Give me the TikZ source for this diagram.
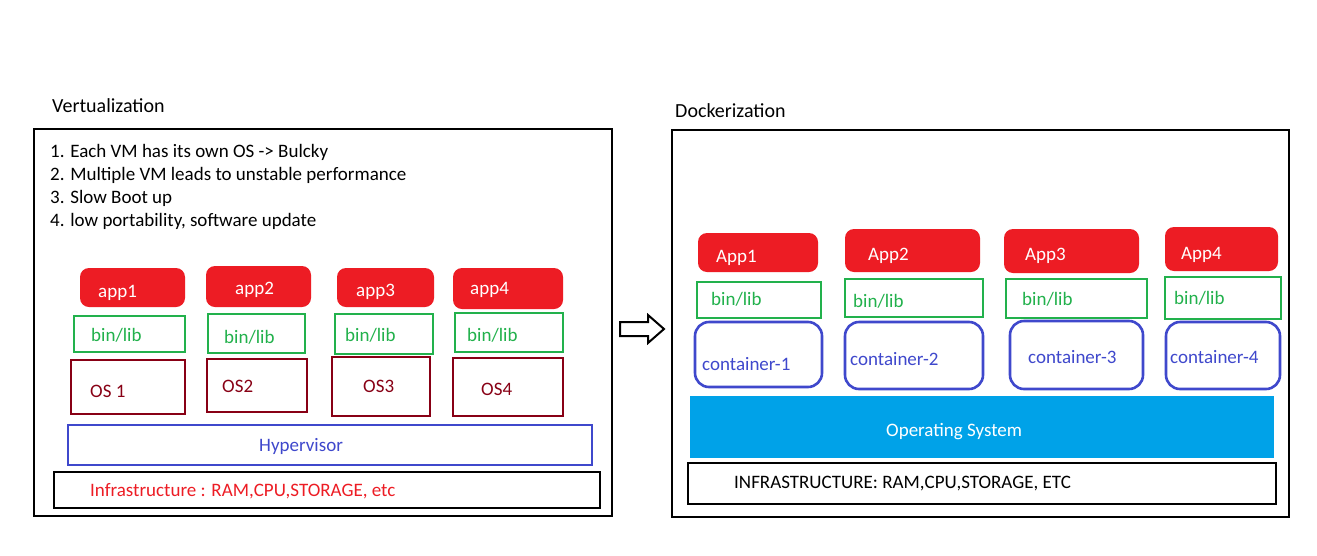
\documentclass[tikz,border=0pt]{standalone}
\usepackage{fontspec}
\setmainfont{Carlito}
\usetikzlibrary{fit}
\definecolor{pred}{HTML}{ED1C24}
\definecolor{pgreen}{HTML}{22B14C}
\definecolor{pdred}{HTML}{880015}
\definecolor{pblue}{HTML}{3F48CC}
\definecolor{pcyan}{HTML}{00A2E8}
\tikzset{
  box/.style={draw, line width=2.6pt, inner sep=0pt, fit={#1}},
  frame/.style={box={#1}, draw=black},
  appbox/.style={box={#1}, draw=none, fill=pred, rounded corners=9pt},
  libbox/.style={box={#1}, draw=pgreen},
  osbox/.style={box={#1}, draw=pdred},
  hypbox/.style={box={#1}, draw=pblue},
  conbox/.style={box={#1}, draw=pblue, rounded corners=14pt},
  sysbox/.style={box={#1}, draw=none, fill=pcyan},
  txt/.style={anchor=base west, inner sep=0pt, font=\fontsize{19}{23}\selectfont},
  ttl/.style={anchor=base west, inner sep=0pt, font=\fontsize{20}{24}\selectfont},
}
\begin{document}
\begin{tikzpicture}[x=1pt,y=-1pt]
\useasboundingbox (0,0) rectangle (1317,555);
\fill[white] (0,0) rectangle (1317,555);
% ---------- Left panel ----------
\node[ttl] (vtitle) at (52,112) {Vertualization};
\node[frame={(34,129) (612,516)}] (vframe) {};
\node[txt] (l1) at (50,157) {1. Each VM has its own OS -> Bulcky};
\node[txt] (l2) at (50,180) {2. Multiple VM leads to unstable performance};
\node[txt] (l3) at (50,203) {3. Slow Boot up};
\node[txt] (l4) at (50,226) {4. low portability, software update};
% apps
\node[appbox={(80,268) (185,307)}] (a1) {};
\node[appbox={(206,266) (311,307)}] (a2) {};
\node[appbox={(337,268) (434,307)}] (a3) {};
\node[appbox={(453,268) (563,309)}] (a4) {};
\node[txt, text=white] (a1t) at (98,297) {app1};
\node[txt, text=white] (a2t) at (235,294) {app2};
\node[txt, text=white] (a3t) at (356,296) {app3};
\node[txt, text=white] (a4t) at (470,294) {app4};
% bin/lib
\node[libbox={(74,316) (185,352)}] (b1) {};
\node[libbox={(208,314) (305,353)}] (b2) {};
\node[libbox={(335,314) (433,354)}] (b3) {};
\node[libbox={(455,313) (563,352)}] (b4) {};
\node[txt, text=pgreen] (b1t) at (91,341) {bin/lib};
\node[txt, text=pgreen] (b2t) at (224,343) {bin/lib};
\node[txt, text=pgreen] (b3t) at (345,341) {bin/lib};
\node[txt, text=pgreen] (b4t) at (467,341) {bin/lib};
% OS
\node[osbox={(71,360) (185,414)}] (o1) {};
\node[osbox={(207,359) (307,412)}] (o2) {};
\node[osbox={(332,357) (430,416)}] (o3) {};
\node[osbox={(453,358) (563,416)}] (o4) {};
\node[txt, text=pdred] (o1t) at (90,397) {OS 1};
\node[txt, text=pdred] (o2t) at (222,392) {OS2};
\node[txt, text=pdred] (o3t) at (363,392) {OS3};
\node[txt, text=pdred] (o4t) at (481,395) {OS4};
% hypervisor
\node[hypbox={(68,425) (592,465)}] (hyp) {};
\node[txt, text=pblue] (hypt) at (259,451) {Hypervisor};
% infrastructure
\node[frame={(54,472) (600,508)}] (inf) {};
\node[txt, text=pred] (inft) at (90,496) {Infrastructure : RAM,CPU,STORAGE, etc};
% ---------- Arrow ----------
\draw[line width=2pt, fill=white, line join=miter]
  (620,322) -- (648,322) -- (648,315) -- (664,329) -- (648,343) -- (648,336) -- (620,336) -- cycle;
% ---------- Right panel ----------
\node[ttl] (dtitle) at (675,117) {Dockerization};
\node[frame={(672,130) (1289,517)}] (dframe) {};
% apps
\node[appbox={(698,233) (818,272)}] (A1) {};
\node[appbox={(845,229) (980,272)}] (A2) {};
\node[appbox={(1004,229) (1139,273)}] (A3) {};
\node[appbox={(1165,227) (1278,271)}] (A4) {};
\node[txt, text=white] (A1t) at (716,262) {App1};
\node[txt, text=white] (A2t) at (868,260) {App2};
\node[txt, text=white] (A3t) at (1025,260) {App3};
\node[txt, text=white] (A4t) at (1181,259) {App4};
% bin/lib
\node[libbox={(697,282) (821,318)}] (B1) {};
\node[libbox={(845,279) (983,317)}] (B2) {};
\node[libbox={(1006,279) (1147,318)}] (B3) {};
\node[libbox={(1165,277) (1281,319)}] (B4) {};
\node[txt, text=pgreen] (B1t) at (711,305) {bin/lib};
\node[txt, text=pgreen] (B2t) at (853,307) {bin/lib};
\node[txt, text=pgreen] (B3t) at (1022,305) {bin/lib};
\node[txt, text=pgreen] (B4t) at (1174,304) {bin/lib};
% containers
\node[conbox={(695,322) (822,387)}] (C1) {};
\node[conbox={(845,322) (983,389)}] (C2) {};
\node[conbox={(1010,321) (1143,389)}] (C3) {};
\node[conbox={(1166,322) (1280,389)}] (C4) {};
\node[txt, text=pblue] (C1t) at (702,370) {container-1};
\node[txt, text=pblue] (C2t) at (850,365) {container-2};
\node[txt, text=pblue] (C3t) at (1028,363) {container-3};
\node[txt, text=pblue] (C4t) at (1170,363) {container-4};
% OS
\node[sysbox={(690,396) (1274,458)}] (sys) {};
\node[txt, text=white] (syst) at (886,436) {Operating System};
% infrastructure
\node[frame={(688,463) (1276,504)}] (INF) {};
\node[txt] (INFt) at (734,488) {INFRASTRUCTURE: RAM,CPU,STORAGE, ETC};
\end{tikzpicture}
\end{document}
